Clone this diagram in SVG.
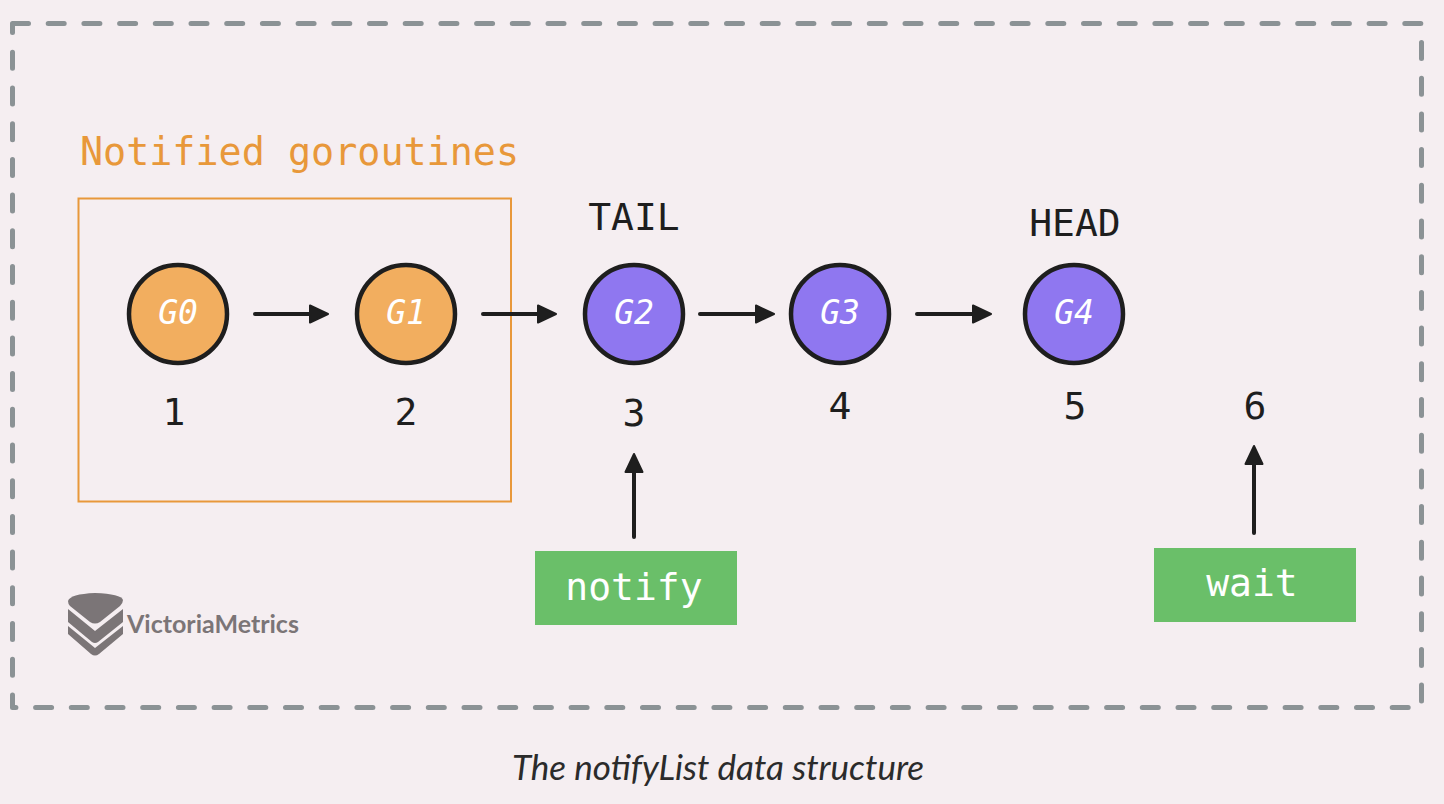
<svg xmlns="http://www.w3.org/2000/svg" width="1444" height="804" viewBox="0 0 1444 804">
<style>
.m{font-family:"DejaVu Sans Mono","Liberation Mono",monospace;font-size:38px;fill:#1e1e1e;text-anchor:middle}
.g{font-family:"DejaVu Sans Mono","Liberation Mono",monospace;font-size:33px;font-style:oblique;fill:#fff;text-anchor:middle}
.c{stroke:#1e1e1e;stroke-width:4;stroke-linecap:round;fill:none;marker-end:url(#a)}
.o{fill:#f2ae5f;stroke:#1e1e1e;stroke-width:4.5}
.p{fill:#8f77f0;stroke:#1e1e1e;stroke-width:4.5}
.b{fill:#6abf69}
.w{font-family:"DejaVu Sans Mono","Liberation Mono",monospace;font-size:38px;fill:#fff;text-anchor:middle}
</style>
<defs><marker id="a" markerUnits="userSpaceOnUse" markerWidth="24" markerHeight="24" refX="1" refY="12" orient="auto"><path d="M2 3.5L20 12L2 20.500Z" fill="#1e1e1e" stroke="#1e1e1e" stroke-width="2" stroke-linejoin="round"/></marker></defs>
<rect width="1444" height="804" fill="#f5eef1"/>
<rect x="12.500" y="23.500" width="1409" height="684" fill="none" stroke="#8b9295" stroke-width="5" stroke-linecap="round" stroke-linejoin="round" stroke-dasharray="16 19.700"/>
<g id="notified-box"><rect x="78.500" y="198.500" width="432.500" height="303" fill="none" stroke="#e8983a" stroke-width="2"/><text x="299.500" y="165" font-family="DejaVu Sans Mono,monospace" font-size="38.400" font-weight="500" fill="#e8983a" text-anchor="middle">Notified goroutines</text></g>
<g id="connectors">
<path class="c" d="M255 314H309"/><path class="c" d="M483 314H537"/><path class="c" d="M700 314H755"/><path class="c" d="M917 314H972"/>
<path class="c" d="M634 537V473"/><path class="c" d="M1254 533V465"/>
</g>
<g id="g0"><circle class="o" cx="178" cy="314" r="49"/><text class="g" x="178" y="324">G0</text></g>
<g id="g1"><circle class="o" cx="406" cy="314" r="49"/><text class="g" x="406" y="324">G1</text></g>
<g id="g2"><circle class="p" cx="634" cy="314" r="49"/><text class="g" x="634" y="324">G2</text></g>
<g id="g3"><circle class="p" cx="840" cy="314" r="49"/><text class="g" x="840" y="324">G3</text></g>
<g id="g4"><circle class="p" cx="1074" cy="314" r="49"/><text class="g" x="1074" y="324">G4</text></g>
<g id="labels">
<text class="m" x="634" y="230">TAIL</text><text class="m" x="1075" y="236">HEAD</text>
<text class="m" x="174" y="425">1</text><text class="m" x="406" y="425">2</text><text class="m" x="634" y="426">3</text><text class="m" x="840" y="419">4</text><text class="m" x="1075" y="419">5</text><text class="m" x="1255" y="419">6</text>
</g>
<g id="notify"><rect class="b" x="535" y="551" width="202" height="74"/><text class="w" x="634" y="600">notify</text></g>
<g id="wait"><rect class="b" x="1154" y="548" width="202" height="74"/><text class="w" x="1252" y="596">wait</text></g>
<g id="logo" fill="#7b7577">
<path d="M68 601Q70 594 95 593Q121 594 123 600Q123 603 120 606L100 622Q95 625 90 622L70 606Q68 604 68 601Z"/>
<path d="M68 609L95 631L123 609V622L98 642Q95 644 92 642L68 622Z"/>
<path d="M68 626L95 648L123 626V634L99 654Q95 657 91 654L68 634Z"/>
<text x="127" y="633" font-family="Lato,sans-serif" font-weight="700" font-size="25">VictoriaMetrics</text>
</g>
<text id="caption" x="718" y="780" font-family="Lato,sans-serif" font-style="italic" font-size="35" fill="#2b2b2b" text-anchor="middle">The notifyList data structure</text>
</svg>
